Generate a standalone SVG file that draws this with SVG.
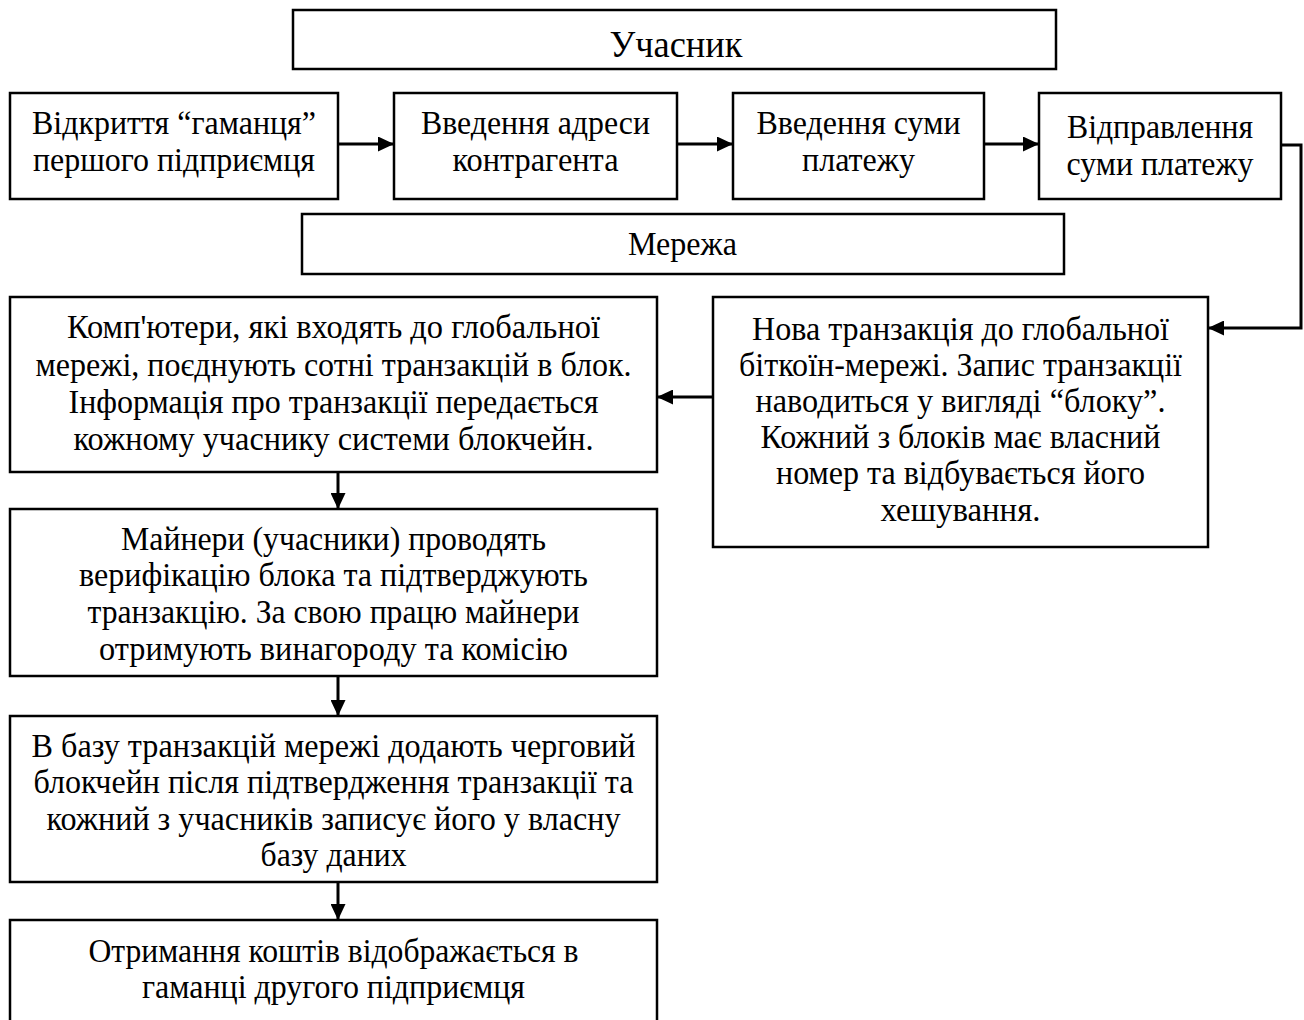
<svg xmlns="http://www.w3.org/2000/svg" width="1304" height="1020" viewBox="0 0 1304 1020">
<style>
.box{fill:#fff;stroke:#000;stroke-width:2.5}
.t{font-family:"Liberation Serif","Times New Roman",serif;fill:#000;text-anchor:middle}
.big{font-size:33px}
.sm{font-size:34px}
.con{fill:none;stroke:#000;stroke-width:3}
</style>
<defs>
<marker id="ah" viewBox="0 0 16 15" refX="16" refY="7.5" markerWidth="16" markerHeight="15" markerUnits="userSpaceOnUse" orient="auto">
<path d="M0,0 L16,7.5 L0,15 z" fill="#000"/>
</marker>
</defs>
<rect width="1304" height="1020" fill="#fff"/>
<g id="uchasnyk">
<rect class="box" x="293" y="10" width="763" height="59"/>
<text class="t" x="676" y="57" font-size="38" textLength="133" lengthAdjust="spacingAndGlyphs">Учасник</text>
</g>
<g id="box1">
<rect class="box" x="10" y="93" width="328" height="106"/>
<text class="t big" x="174" y="134" textLength="284" lengthAdjust="spacingAndGlyphs">Відкриття “гаманця”</text>
<text class="t big" x="174" y="171" textLength="282" lengthAdjust="spacingAndGlyphs">першого підприємця</text>
</g>
<g id="box2">
<rect class="box" x="394" y="93" width="283" height="106"/>
<text class="t big" x="535.5" y="134" textLength="229" lengthAdjust="spacingAndGlyphs">Введення адреси</text>
<text class="t big" x="535.5" y="171" textLength="166" lengthAdjust="spacingAndGlyphs">контрагента</text>
</g>
<g id="box3">
<rect class="box" x="733" y="93" width="251" height="106"/>
<text class="t big" x="858.5" y="134" textLength="204" lengthAdjust="spacingAndGlyphs">Введення суми</text>
<text class="t big" x="858.5" y="171" textLength="113" lengthAdjust="spacingAndGlyphs">платежу</text>
</g>
<g id="box4">
<rect class="box" x="1039" y="93" width="242" height="106"/>
<text class="t big" x="1160" y="138" textLength="186" lengthAdjust="spacingAndGlyphs">Відправлення</text>
<text class="t big" x="1160" y="175" textLength="187" lengthAdjust="spacingAndGlyphs">суми платежу</text>
</g>
<g id="merezha">
<rect class="box" x="302" y="214" width="762" height="60"/>
<text class="t big" x="682.5" y="255" textLength="109" lengthAdjust="spacingAndGlyphs">Мережа</text>
</g>
<g id="box5">
<rect class="box" x="10" y="297" width="647" height="175"/>
<text class="t sm" x="333.5" y="338" textLength="533" lengthAdjust="spacingAndGlyphs">Комп'ютери, які входять до глобальної</text>
<text class="t sm" x="333.5" y="376" textLength="596" lengthAdjust="spacingAndGlyphs">мережі, поєднують сотні транзакцій в блок.</text>
<text class="t sm" x="333.5" y="413" textLength="530" lengthAdjust="spacingAndGlyphs">Інформація про транзакції передається</text>
<text class="t sm" x="333.5" y="450" textLength="520" lengthAdjust="spacingAndGlyphs">кожному учаснику системи блокчейн.</text>
</g>
<g id="box9">
<rect class="box" x="713" y="297" width="495" height="250"/>
<text class="t sm" x="960.5" y="340" textLength="417" lengthAdjust="spacingAndGlyphs">Нова транзакція до глобальної</text>
<text class="t sm" x="960.5" y="376" textLength="443" lengthAdjust="spacingAndGlyphs">біткоїн-мережі. Запис транзакції</text>
<text class="t sm" x="960.5" y="412" textLength="410" lengthAdjust="spacingAndGlyphs">наводиться у вигляді “блоку”.</text>
<text class="t sm" x="960.5" y="448" textLength="400" lengthAdjust="spacingAndGlyphs">Кожний з блоків має власний</text>
<text class="t sm" x="960.5" y="484" textLength="369" lengthAdjust="spacingAndGlyphs">номер та відбувається його</text>
<text class="t sm" x="960.5" y="521" textLength="160" lengthAdjust="spacingAndGlyphs">хешування.</text>
</g>
<g id="box6">
<rect class="box" x="10" y="509" width="647" height="167"/>
<text class="t sm" x="333.5" y="550" textLength="425" lengthAdjust="spacingAndGlyphs">Майнери (учасники) проводять</text>
<text class="t sm" x="333.5" y="586" textLength="509" lengthAdjust="spacingAndGlyphs">верифікацію блока та підтверджують</text>
<text class="t sm" x="333.5" y="623" textLength="492" lengthAdjust="spacingAndGlyphs">транзакцію. За свою працю майнери</text>
<text class="t sm" x="333.5" y="660" textLength="469" lengthAdjust="spacingAndGlyphs">отримують винагороду та комісію</text>
</g>
<g id="box7">
<rect class="box" x="10" y="716" width="647" height="166"/>
<text class="t sm" x="333.5" y="757" textLength="604" lengthAdjust="spacingAndGlyphs">В базу транзакцій мережі додають черговий</text>
<text class="t sm" x="333.5" y="793" textLength="600" lengthAdjust="spacingAndGlyphs">блокчейн після підтвердження транзакції та</text>
<text class="t sm" x="333.5" y="830" textLength="574" lengthAdjust="spacingAndGlyphs">кожний з учасників записує його у власну</text>
<text class="t sm" x="333.5" y="866" textLength="146" lengthAdjust="spacingAndGlyphs">базу даних</text>
</g>
<g id="box8">
<rect class="box" x="10" y="920" width="647" height="130"/>
<text class="t sm" x="333.5" y="962" textLength="490" lengthAdjust="spacingAndGlyphs">Отримання коштів відображається в</text>
<text class="t sm" x="333.5" y="998" textLength="383" lengthAdjust="spacingAndGlyphs">гаманці другого підприємця</text>
</g>
<g id="connectors">
<path class="con" d="M338,144 H394" marker-end="url(#ah)"/>
<path class="con" d="M677,144 H733" marker-end="url(#ah)"/>
<path class="con" d="M984,144 H1039" marker-end="url(#ah)"/>
<path class="con" d="M1281,145 H1301 V328 H1208" marker-end="url(#ah)"/>
<path class="con" d="M713,397 H657" marker-end="url(#ah)"/>
<path class="con" d="M338,472 V509" marker-end="url(#ah)"/>
<path class="con" d="M338,676 V716" marker-end="url(#ah)"/>
<path class="con" d="M338,882 V920" marker-end="url(#ah)"/>
</g>
</svg>
